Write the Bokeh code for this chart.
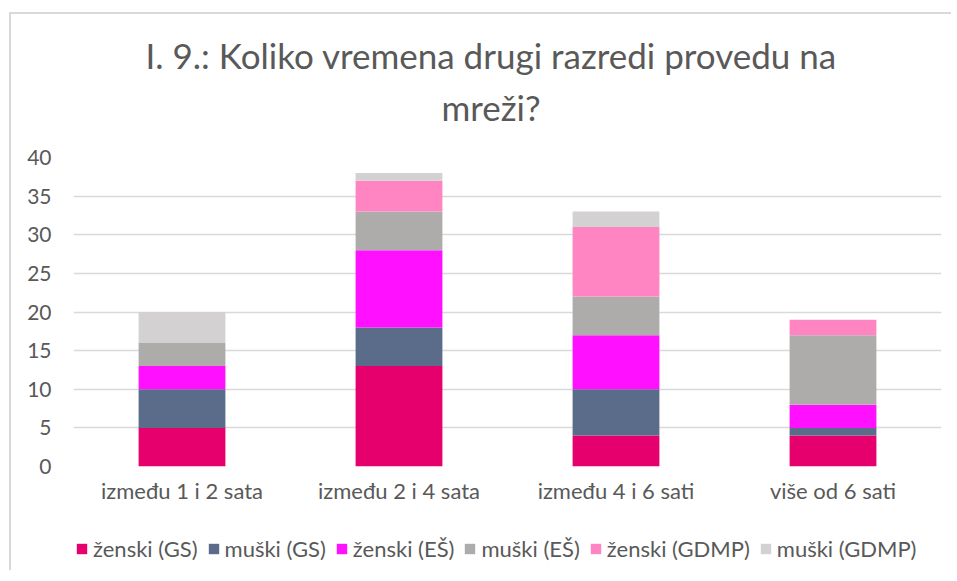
from bokeh.plotting import figure
from bokeh.layouts import column
from bokeh.models import (ColumnDataSource, Legend, LegendItem, FixedTicker, Title)
from bokeh.embed import file_html
from bokeh.resources import INLINE

# ---- data ----
categories = ["između 1 i 2 sata", "između 2 i 4 sata", "između 4 i 6 sati", "više od 6 sati"]
series_labels = ["ženski (GS)", "muški (GS)", "ženski (EŠ)", "muški (EŠ)", "ženski (GDMP)", "muški (GDMP)"]
zenski_gs = [5, 13, 4, 4]
muski_gs = [5, 5, 6, 1]
zenski_es = [3, 10, 7, 3]
muski_es = [3, 5, 5, 9]
zenski_gdmp = [0, 4, 9, 2]
muski_gdmp = [4, 1, 2, 0]
y_ticks = [0, 5, 10, 15, 20, 25, 30, 35, 40]
title_line1 = "I. 9.: Koliko vremena drugi razredi provedu na"
title_line2 = "mreži?"

colors = ["#E5006E", "#5B6C8A", "#FF10FF", "#ADACAB", "#FF85C2", "#D3D1D2"]
keys = ["zgs", "mgs", "zes", "mes", "zgd", "mgd"]

source = ColumnDataSource(data=dict(
    cat=categories,
    zgs=zenski_gs, mgs=muski_gs, zes=zenski_es,
    mes=muski_es, zgd=zenski_gdmp, mgd=muski_gdmp,
))

FONT = "Lato"
TXT = "#595959"
W = 940

# ---- title strip ----
pt = figure(width=W, height=113, output_backend="svg", toolbar_location=None,
            x_axis_location=None, y_axis_location=None,
            min_border_left=62, min_border_right=10, min_border_top=61, min_border_bottom=0)
pt.outline_line_color = None
pt.grid.visible = False
t1 = Title(text=title_line1, align="left", offset=72, text_font=FONT, text_font_size="35px",
           text_color=TXT, text_font_style="normal", standoff=0)
t2 = Title(text=title_line2, align="left", offset=368, text_font=FONT, text_font_size="35px",
           text_color=TXT, text_font_style="normal", standoff=0)
pt.add_layout(t1, "above")
pt.add_layout(t2, "below")

# ---- chart ----
p = figure(x_range=categories, y_range=(0, 40), width=W, height=393,
           output_backend="svg", toolbar_location=None,
           min_border_left=62, min_border_right=10, min_border_top=30, min_border_bottom=54)

renderers = p.vbar_stack(keys, x="cat", width=0.4, color=colors, source=source,
                         line_color=None)

p.outline_line_color = None
p.background_fill_color = "white"
p.border_fill_color = "white"

p.xgrid.grid_line_color = None
p.ygrid.grid_line_color = "#d9d9d9"
p.ygrid.grid_line_width = 1.5

p.yaxis.ticker = FixedTicker(ticks=y_ticks)
p.yaxis.axis_line_color = None
p.yaxis.major_tick_line_color = None
p.yaxis.minor_tick_line_color = None
p.yaxis.major_label_text_font = FONT
p.yaxis.major_label_text_font_size = "21px"
p.yaxis.major_label_text_color = TXT
p.yaxis.major_label_standoff = 16

p.xaxis.axis_line_color = None
p.xaxis.major_tick_line_color = None
p.xaxis.major_label_text_font = FONT
p.xaxis.major_label_text_font_size = "22px"
p.xaxis.major_label_text_color = TXT
p.xaxis.major_label_standoff = 4

p.x_range.range_padding = 0.0

# ---- legend strip (its bars are hidden; only the legend shows) ----
pl = figure(x_range=p.x_range, y_range=(0, 40), width=W, height=50,
            output_backend="svg", toolbar_location=None,
            x_axis_location=None, y_axis_location=None,
            min_border_left=62, min_border_right=10, min_border_top=0, min_border_bottom=0)
pl.grid.visible = False
pl.outline_line_color = None
leg_rs = pl.vbar_stack(keys, x="cat", width=0.4, color=colors, source=source, line_color=None)
for r in leg_rs:
    r.visible = False

items = [LegendItem(label=lab, renderers=[r]) for lab, r in zip(series_labels, leg_rs)]
legend = Legend(items=items, orientation="horizontal", location=(2, 8),
                label_text_font=FONT, label_text_font_size="22px", label_text_color=TXT,
                glyph_width=13, glyph_height=13, label_standoff=5, spacing=9,
                border_line_color=None, background_fill_alpha=0, padding=0, margin=0)
pl.add_layout(legend, "center")

layout = column(pt, p, pl, spacing=0)
layout.styles = {"margin-left": "9px", "margin-top": "12px",
                 "border-left": "2px solid #d9d9d9", "border-top": "2px solid #d9d9d9"}

open("out.html", "w").write(file_html(layout, INLINE))
